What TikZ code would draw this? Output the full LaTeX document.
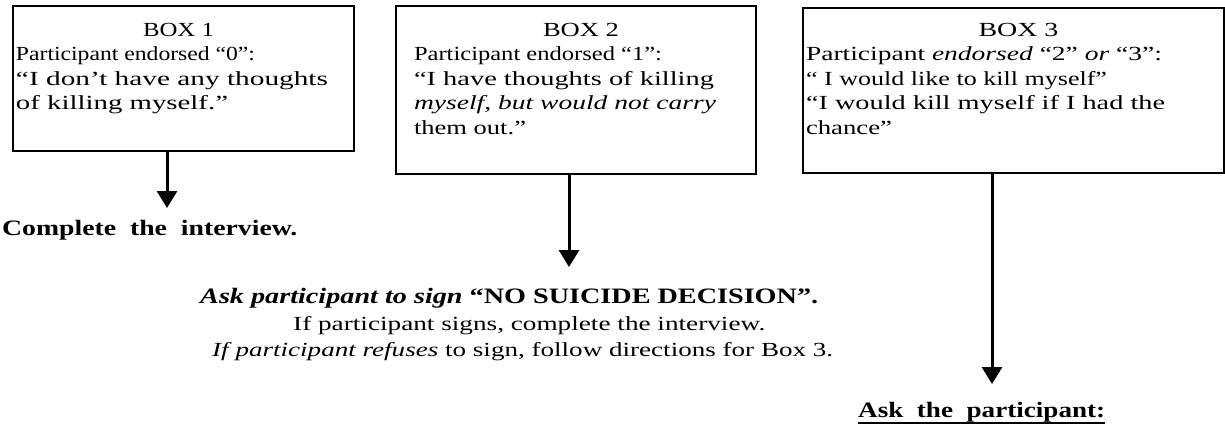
\documentclass[tikz,border=0pt]{standalone}
\usepackage{fontspec}
\usepackage{graphicx}
\setmainfont{Liberation Serif}
\usetikzlibrary{arrows.meta}
\newcommand{\boxbody}[3]{\parbox[c][#2][t]{#1}{#3}}
\newcommand{\fw}[2]{\resizebox{#1pt}{\height}{#2}}
\tikzset{
  box/.style={draw, line width=2pt, inner xsep=3pt, inner ysep=0pt, anchor=north west,
              font=\fontsize{20}{24.5}\selectfont},
  arr/.style={line width=3pt, -{Triangle[width=20pt,length=17pt]}},
  plain/.style={inner sep=0pt, anchor=base west, font=\fontsize{20}{24}\selectfont},
  heading/.style={inner sep=0pt, anchor=base west, font=\fontsize{22}{26}\selectfont\bfseries},
}
\begin{document}
\begin{tikzpicture}[x=1pt,y=-1pt]
\useasboundingbox[fill=white] (0,0) rectangle (1225,431);

% boxes
\node[box] (b1) at (12,5) {\boxbody{335pt}{145pt}{%
  {\centering\rule{0pt}{30pt}\hspace*{-10pt}\fw{71}{BOX 1}\par}%
  \raggedright \fw{239}{Participant endorsed “0”:}\\
  \fw{312}{“I don’t have any thoughts}\\
  \fw{212}{of killing myself.”}}};
\node[box, inner xsep=18pt] (b2) at (395,5) {\boxbody{324pt}{168pt}{%
  {\centering\rule{0pt}{30pt}\hspace*{10pt}\fw{76}{BOX 2}\par}%
  \raggedright \fw{248}{Participant endorsed “1”:}\\
  \fw{300}{“I have thoughts of killing}\\
  \fw{302}{\textit{myself, but would not carry}}\\
  \fw{112}{them out.”}}};
\node[box] (b3) at (802,7) {\boxbody{415pt}{165pt}{%
  {\centering\rule{0pt}{28pt}\hspace*{10pt}\fw{80}{BOX 3}\par}%
  \raggedright \fw{356}{Participant \textit{endorsed} “2” \textit{or} “3”:}\\
  \fw{301}{“ I would like to kill myself”}\\
  \fw{359}{“I would kill myself if I had the}\\
  \fw{86}{chance”}}};

% tips of the arrows
\coordinate (t1) at (167,208);
\coordinate (t2) at (569,267);
\coordinate (t3) at (992,384);

\draw[arr] (b1.south -| t1) -- (t1);
\draw[arr] (b2.south -| t2) -- (t2);
\draw[arr] (b3.south -| t3) -- (t3);

% outcome texts
\node[heading] (c1) at (2,235) {\fw{295}{Complete\ \ the\ \ interview.}};

\node[heading] (s1) at (200,303)
  {\fw{618}{\itshape Ask participant to sign \upshape “NO SUICIDE DECISION”.}};
\node[plain] (s2) at (293,330) {\fw{472}{If participant signs, complete the interview.}};
\node[plain] (s3) at (212,356) {\fw{621}{\textit{If participant refuses} to sign, follow directions for Box 3.}};

\node[heading] (a1) at (858,417) {\fw{247}{Ask\ \ the\ \ participant:}};
\draw[line width=1.6pt] ([yshift=-6pt]a1.base west) -- ([yshift=-6pt]a1.base east);
\end{tikzpicture}
\end{document}
